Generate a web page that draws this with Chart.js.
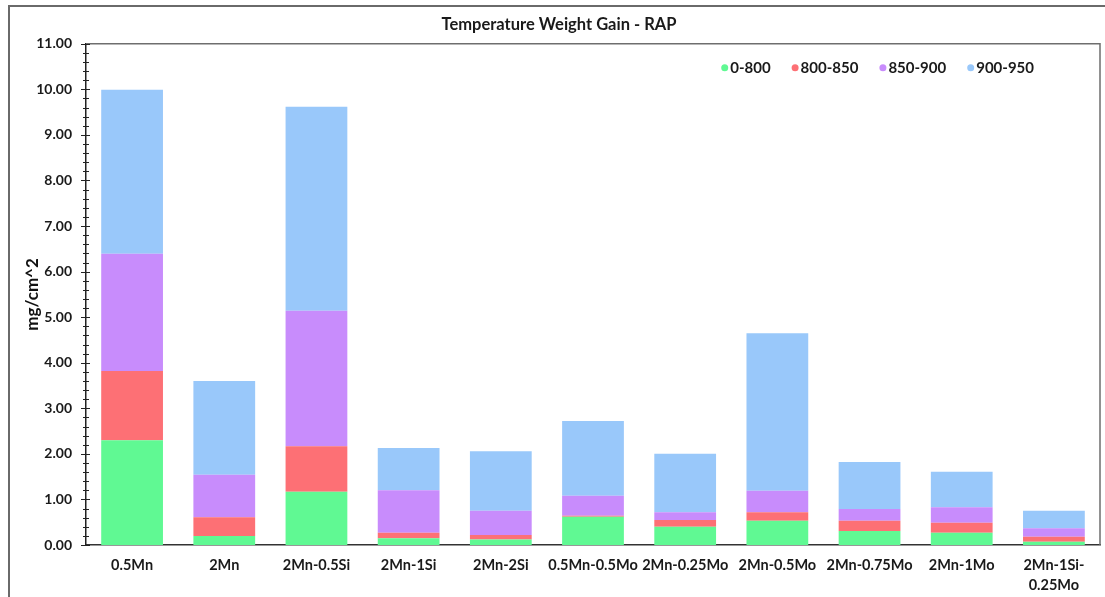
<!DOCTYPE html>
<html lang="en">
<head>
    <meta charset="UTF-8">
    <title>Temperature Weight Gain - RAP</title>
    <script src="https://cdn.jsdelivr.net/npm/chart.js"></script>
    <style>
        body { margin: 0; background: #fff; }
        #wrap { position: relative; width: 1105px; height: 597px; overflow: hidden; }
        #frame {
            position: absolute; left: 8px; top: 5px; width: 1200px; height: 700px;
            border-top: 2px solid #6a6a6a; border-left: 2px solid #6a6a6a;
            pointer-events: none;
        }
        canvas { position: absolute; left: 0; top: 0; }
    </style>
</head>
<body>
    <div id="wrap">
        <canvas id="gainChart" width="1105" height="597"></canvas>
        <div id="frame"></div>
    </div>

    <script>
        // alloys, weight gain per temperature step (mg/cm^2)
        const alloys = ['0.5Mn', '2Mn', '2Mn-0.5Si', '2Mn-1Si', '2Mn-2Si', '0.5Mn-0.5Mo',
            '2Mn-0.25Mo', '2Mn-0.5Mo', '2Mn-0.75Mo', '2Mn-1Mo', ['2Mn-1Si-', '0.25Mo']];
        const gain0to800   = [2.30, 0.20, 1.17, 0.15, 0.12, 0.62, 0.40, 0.53, 0.31, 0.27, 0.07];
        const gain800to850 = [1.52, 0.41, 1.00, 0.12, 0.10, 0.02, 0.15, 0.19, 0.22, 0.22, 0.11];
        const gain850to900 = [2.57, 0.93, 2.97, 0.93, 0.53, 0.44, 0.17, 0.47, 0.26, 0.34, 0.19];
        const gain900to950 = [3.60, 2.06, 4.48, 0.93, 1.31, 1.64, 1.28, 3.46, 1.03, 0.78, 0.38];
        const stepLabels = ['0-800', '800-850', '850-900', '900-950'];
        const stepColors = ['#60f993', '#fd7075', '#c88cfc', '#99c8fa'];

        const font = 'Lato, "Open Sans", sans-serif';

        // box round the plot and minor ticks on the value axis
        const plotFrame = {
            id: 'plotFrame',
            afterDraw(chart) {
                let ctx = chart.ctx;
                let a = chart.chartArea;
                let y = chart.scales.y;
                ctx.save();
                ctx.strokeStyle = '#6e6e6e';
                ctx.lineWidth = 1.5;
                ctx.beginPath();
                ctx.moveTo(a.left, a.top);
                ctx.lineTo(a.right, a.top);
                ctx.lineTo(a.right, a.bottom);
                ctx.stroke();

                ctx.strokeStyle = '#222';
                ctx.lineWidth = 1;
                for (let i = 0; i <= 55; i++) {
                    let py = Math.round(y.getPixelForValue(i * 0.2)) + 0.5;
                    let major = i % 5 === 0;
                    ctx.beginPath();
                    ctx.moveTo(a.left - (major ? 5 : 3), py);
                    ctx.lineTo(a.left + (major ? 4 : 3), py);
                    ctx.stroke();
                }
                ctx.restore();
            }
        };

        // legend row inside the plot, top right
        const insideLegend = {
            id: 'insideLegend',
            afterDraw(chart) {
                let ctx = chart.ctx;
                let a = chart.chartArea;
                let sets = chart.data.datasets;
                ctx.save();
                ctx.font = 'bold 15px ' + font;
                ctx.textBaseline = 'middle';
                let widths = sets.map(ds => 9 + ctx.measureText(ds.label).width);
                let gap = 21;
                let total = widths.reduce((s, w) => s + w, 0) + gap * (sets.length - 1);
                let x = a.right - 66 - total;
                let y = a.top + 24;
                sets.forEach((ds, i) => {
                    ctx.fillStyle = ds.backgroundColor;
                    ctx.beginPath();
                    ctx.arc(x + 3.5, y, 3.5, 0, Math.PI * 2);
                    ctx.fill();
                    ctx.fillStyle = '#1a1a1a';
                    ctx.fillText(ds.label, x + 9, y);
                    x += widths[i] + gap;
                });
                ctx.restore();
            }
        };

        function plotGain() {
            let ctx = document.getElementById('gainChart').getContext('2d');
            let series = [gain0to800, gain800to850, gain850to900, gain900to950];

            let datasets = series.map((data, i) => ({
                label: stepLabels[i],
                data: data,
                backgroundColor: stepColors[i],
                borderWidth: 0,
                categoryPercentage: 1.0,
                barPercentage: 0.67
            }));

            new Chart(ctx, {
                type: 'bar',
                data: { labels: alloys, datasets },
                plugins: [plotFrame, insideLegend],
                options: {
                    responsive: false,
                    animation: false,
                    layout: { padding: { left: 18, right: 5, top: 0, bottom: 0 } },
                    plugins: {
                        title: {
                            display: true,
                            text: 'Temperature Weight Gain - RAP',
                            color: '#1a1a1a',
                            font: { family: font, size: 16.5, weight: 'bold' },
                            padding: { top: 15, bottom: 9 }
                        },
                        legend: { display: false },
                        tooltip: { enabled: false }
                    },
                    scales: {
                        x: {
                            stacked: true,
                            grid: { display: false },
                            border: { display: true, color: '#333', width: 1.5 },
                            ticks: {
                                color: '#1a1a1a',
                                padding: 3,
                                maxRotation: 0,
                                autoSkip: false,
                                font: { family: font, size: 14.5, weight: 'bold', lineHeight: 1.35 }
                            },
                            afterFit: scale => { scale.height = 52; }
                        },
                        y: {
                            stacked: true,
                            min: 0,
                            max: 11,
                            grid: { display: false, drawTicks: false },
                            border: { display: true, color: '#222', width: 1.5 },
                            ticks: {
                                stepSize: 1,
                                padding: 14,
                                color: '#1a1a1a',
                                font: { family: font, size: 14, weight: 'bold' },
                                callback: v => v.toFixed(2)
                            },
                            title: {
                                display: true,
                                text: 'mg/cm^2',
                                color: '#111',
                                font: { family: font, size: 17, weight: 'bold' },
                                padding: { top: 4, bottom: 0 }
                            },
                            afterFit: scale => { scale.width = 68; }
                        }
                    }
                }
            });
        }

        plotGain();
    </script>
</body>
</html>
